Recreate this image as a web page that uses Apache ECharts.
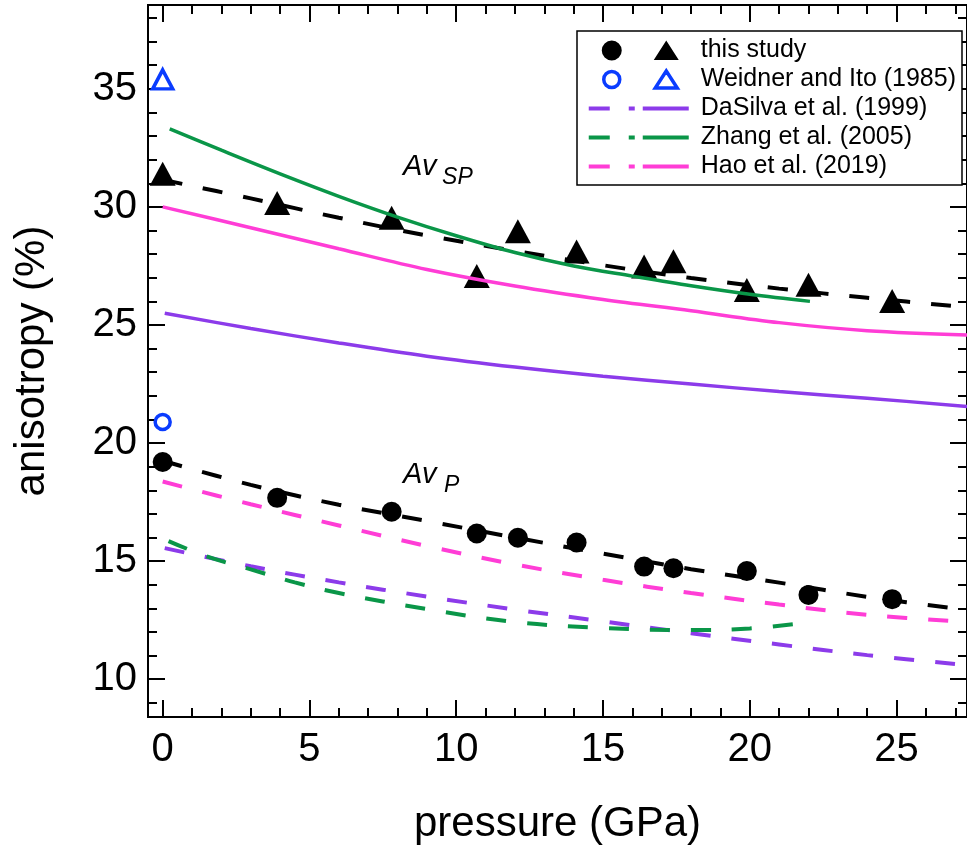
<!DOCTYPE html>
<html>
<head>
<meta charset="utf-8">
<script src="https://cdn.jsdelivr.net/npm/echarts@6/dist/echarts.min.js"></script>
<style>
html,body{margin:0;padding:0;background:#fff;}
#chart{width:967px;height:850px;}
</style>
</head>
<body>
<div id="chart"></div>
<script>
// ---------- data ----------
// this study: measured anisotropy vs pressure
const pressure = [0, 3.9, 7.8, 10.7, 12.1, 14.1, 16.4, 17.4, 19.9, 22.0, 24.85];
const avP  = [19.2, 17.68, 17.09, 16.17, 15.99, 15.79, 14.77, 14.7, 14.58, 13.57, 13.39];
const avSP = [31.4, 30.17, 29.54, 27.07, 28.97, 28.11, 27.48, 27.7, 26.48, 26.7, 26.02];

// Weidner and Ito (1985)
const weidnerPressure = [0];
const weidnerP  = [20.89];
const weidnerSP = [35.4];

// fitted curves of this study
const fitPressure = [0, 3, 6, 9, 12, 15, 18, 21, 24, 27.4];
const fitP  = [19.25, 18.23, 17.39, 16.70, 16.0, 15.32, 14.66, 14.09, 13.49, 12.93];
const fitSP = [31.15, 30.36, 29.54, 28.79, 28.14, 27.53, 26.99, 26.54, 26.15, 25.75];

// DaSilva et al. (1999)
const dasilvaPressure = [0.07, 3, 6, 9, 12, 15, 18, 21, 24, 27.4];
const dasilvaP  = [15.55, 14.78, 14.1, 13.5, 12.95, 12.45, 11.95, 11.47, 11.02, 10.6];
const dasilvaSP = [25.5, 24.85, 24.24, 23.68, 23.22, 22.83, 22.5, 22.18, 21.9, 21.55];

// Zhang et al. (2005)
const zhangPressureP = [0.2, 1.5, 3, 4.5, 6, 9, 12, 15, 18, 20, 22];
const zhangP = [15.85, 15.2, 14.65, 14.1, 13.65, 12.97, 12.42, 12.17, 12.08, 12.15, 12.4];
const zhangPressureSP = [0.24, 2, 4, 6, 8, 10, 12, 14, 16, 18, 20, 22.05];
const zhangSP = [33.3, 32.4, 31.4, 30.45, 29.57, 28.78, 28.07, 27.5, 27.07, 26.66, 26.3, 26.0];

// Hao et al. (2019)
const haoPressure = [0, 3, 6, 9, 12, 15, 18, 21, 24, 27.4];
const haoP  = [18.37, 17.41, 16.51, 15.64, 14.86, 14.21, 13.65, 13.16, 12.73, 12.42];
const haoSP = [30.0, 29.12, 28.23, 27.35, 26.65, 26.08, 25.6, 25.1, 24.76, 24.58];

// axis ticks
const xMajorTicks = [0, 5, 10, 15, 20, 25];
const xMinorTicks = [0,1,2,3,4,5,6,7,8,9,10,11,12,13,14,15,16,17,18,19,20,21,22,23,24,25,26,27];
const yMajorTicks = [10, 15, 20, 25, 30, 35];
const yMinorTicks = [9,10,11,12,13,14,15,16,17,18,19,20,21,22,23,24,25,26,27,28,29,30,31,32,33,34,35,36,37,38];

// ---------- helpers ----------
const pairs = (xs, ys) => xs.map((x, i) => [x, ys[i]]);
const FONT = '"Liberation Sans", Arial, Helvetica, sans-serif';
const BLACK = '#000000';
const BLUE = '#0a3cff';
const PURPLE = '#8c3bea';
const GREEN = '#0a9648';
const MAGENTA = '#ff3dd6';

const X_MIN = -0.5, X_MAX = 27.4, Y_MIN = 8.4, Y_MAX = 38.55;

function xAxisDef(position, ticks, len, withLabel) {
  return {
    type: 'value', position: position, min: X_MIN, max: X_MAX,
    axisLine: {show: true, onZero: false, lineStyle: {color: BLACK, width: 2}},
    axisTick: {show: true, inside: true, length: len, customValues: ticks, lineStyle: {color: BLACK, width: 2}},
    axisLabel: withLabel ? {show: true, customValues: xMajorTicks, fontSize: 40, fontFamily: FONT, color: BLACK, margin: 13} : {show: false},
    splitLine: {show: false},
    name: withLabel ? 'pressure (GPa)' : '',
    nameLocation: 'middle', nameGap: 86,
    nameTextStyle: {fontSize: 42, fontFamily: FONT, color: BLACK}
  };
}
function yAxisDef(position, ticks, len, withLabel) {
  return {
    type: 'value', position: position, min: Y_MIN, max: Y_MAX,
    axisLine: {show: true, onZero: false, lineStyle: {color: BLACK, width: 2}},
    axisTick: {show: true, inside: true, length: len, customValues: ticks, lineStyle: {color: BLACK, width: 2}},
    axisLabel: withLabel ? {show: true, customValues: yMajorTicks, fontSize: 40, fontFamily: FONT, color: BLACK, margin: 11} : {show: false},
    splitLine: {show: false},
    name: withLabel ? 'anisotropy (%)' : '',
    nameLocation: 'middle', nameGap: 95,
    nameTextStyle: {fontSize: 42, fontFamily: FONT, color: BLACK}
  };
}

function fitLine(name, xs, ys, color, dashed, width) {
  return {
    type: 'line', name: name, data: pairs(xs, ys),
    showSymbol: false, symbol: 'none', smooth: 0.35, z: 4,
    lineStyle: {color: color, width: width, type: dashed ? [20, 21] : 'solid', cap: 'butt', opacity: 1},
    itemStyle: {color: color},
    emphasis: {disabled: true}, silent: true
  };
}

const iconMeasured = 'path://M0 0M100 20M13 10A10 10 0 1 0 33 10A10 10 0 1 0 13 10ZM77.5 0L90 19.5L65 19.5Z';
const iconWeidner  = 'path://M0 0M100 20M15 10A8 8 0 1 0 31 10A8 8 0 1 0 15 10ZM77.5 1.5L88.5 18.5L66.5 18.5Z';
const iconLine     = 'path://M0 0M100 20M0 8L21 8L21 12L0 12ZM40 8L46 8L46 12L40 12ZM54 8L100 8L100 12L54 12Z';

const chart = echarts.init(document.getElementById('chart'), null, {renderer: 'canvas'});

const option = {
  backgroundColor: '#ffffff',
  animation: false,
  grid: {left: 148, top: 5, width: 824, height: 714.6, containLabel: false},
  xAxis: [
    xAxisDef('bottom', xMajorTicks, 17, true),
    xAxisDef('bottom', xMinorTicks, 9, false),
    xAxisDef('top', xMajorTicks, 17, false),
    xAxisDef('top', xMinorTicks, 9, false)
  ],
  yAxis: [
    yAxisDef('left', yMajorTicks, 17, true),
    yAxisDef('left', yMinorTicks, 9, false),
    yAxisDef('right', yMajorTicks, 17, false),
    yAxisDef('right', yMinorTicks, 9, false)
  ],
  legend: {
    orient: 'vertical', left: 577, top: 31,
    padding: [7, 6, 6, 10],
    itemWidth: 100, itemHeight: 20, itemGap: 4,
    borderColor: BLACK, borderWidth: 1.5, backgroundColor: '#ffffff',
    selectedMode: false,
    textStyle: {fontFamily: FONT, fontSize: 25, color: BLACK, lineHeight: 24, padding: [0, 0, 0, 7]},
    data: [
      {name: 'this study', icon: iconMeasured, itemStyle: {color: BLACK, borderWidth: 0, opacity: 1}},
      {name: 'Weidner and Ito (1985)', icon: iconWeidner, itemStyle: {color: 'rgba(0,0,0,0)', borderColor: BLUE, borderWidth: 3.5, opacity: 1}},
      {name: 'DaSilva et al. (1999)', icon: iconLine, itemStyle: {color: PURPLE, borderWidth: 0, opacity: 1}},
      {name: 'Zhang et al. (2005)', icon: iconLine, itemStyle: {color: GREEN, borderWidth: 0, opacity: 1}},
      {name: 'Hao et al. (2019)', icon: iconLine, itemStyle: {color: MAGENTA, borderWidth: 0, opacity: 1}}
    ]
  },
  series: [
    {
      type: 'scatter', name: 'this study', data: pairs(pressure, avP),
      symbol: 'circle', symbolSize: 20, z: 3, itemStyle: {color: BLACK, opacity: 1}
    },
    {
      type: 'scatter', name: 'this study', data: pairs(pressure, avSP),
      symbol: 'triangle', symbolSize: [26, 24], z: 3, itemStyle: {color: BLACK, opacity: 1}
    },
    {
      type: 'scatter', name: 'Weidner and Ito (1985)', data: pairs(weidnerPressure, weidnerP),
      symbol: 'circle', symbolSize: 15, z: 3,
      itemStyle: {color: 'rgba(0,0,0,0)', borderColor: BLUE, borderWidth: 3.5, opacity: 1}
    },
    {
      type: 'scatter', name: 'Weidner and Ito (1985)', data: pairs(weidnerPressure, weidnerSP),
      symbol: 'triangle', symbolSize: [20, 19], z: 3,
      itemStyle: {color: 'rgba(0,0,0,0)', borderColor: BLUE, borderWidth: 3.5, opacity: 1}
    },
    fitLine('fit Av_SP (this study)', fitPressure, fitSP, BLACK, true, 4),
    fitLine('fit Av_P (this study)', fitPressure, fitP, BLACK, true, 4),
    fitLine('DaSilva et al. (1999)', dasilvaPressure, dasilvaP, PURPLE, true, 4),
    fitLine('DaSilva et al. (1999)', dasilvaPressure, dasilvaSP, PURPLE, false, 3.5),
    fitLine('Zhang et al. (2005)', zhangPressureP, zhangP, GREEN, true, 4),
    fitLine('Zhang et al. (2005)', zhangPressureSP, zhangSP, GREEN, false, 3.5),
    fitLine('Hao et al. (2019)', haoPressure, haoP, MAGENTA, true, 4),
    fitLine('Hao et al. (2019)', haoPressure, haoSP, MAGENTA, false, 3.5)
  ]
};
chart.setOption(option);

// curve annotations (Av_SP, Av_P) anchored in data coordinates (text baseline, left edge)
const annotations = [
  {main: 'Av', sub: 'SP', at: [8.19, 31.28], subDx: 39},
  {main: 'Av', sub: 'P', at: [8.19, 18.21], subDx: 41}
];
const graphics = [];
annotations.forEach(a => {
  const p = chart.convertToPixel({xAxisIndex: 0, yAxisIndex: 0}, a.at);
  graphics.push({
    type: 'text', x: p[0], y: p[1] - 10, z: 10,
    style: {text: a.main, fontSize: 29, fontStyle: 'italic', fontFamily: FONT, fill: BLACK,
            align: 'left', textAlign: 'left', verticalAlign: 'middle', textVerticalAlign: 'middle'}
  });
  graphics.push({
    type: 'text', x: p[0] + a.subDx, y: p[1] + 0.5, z: 10,
    style: {text: a.sub, fontSize: 23, fontStyle: 'italic', fontFamily: FONT, fill: BLACK,
            align: 'left', textAlign: 'left', verticalAlign: 'middle', textVerticalAlign: 'middle'}
  });
});
chart.setOption({graphic: graphics});
</script>
</body>
</html>
